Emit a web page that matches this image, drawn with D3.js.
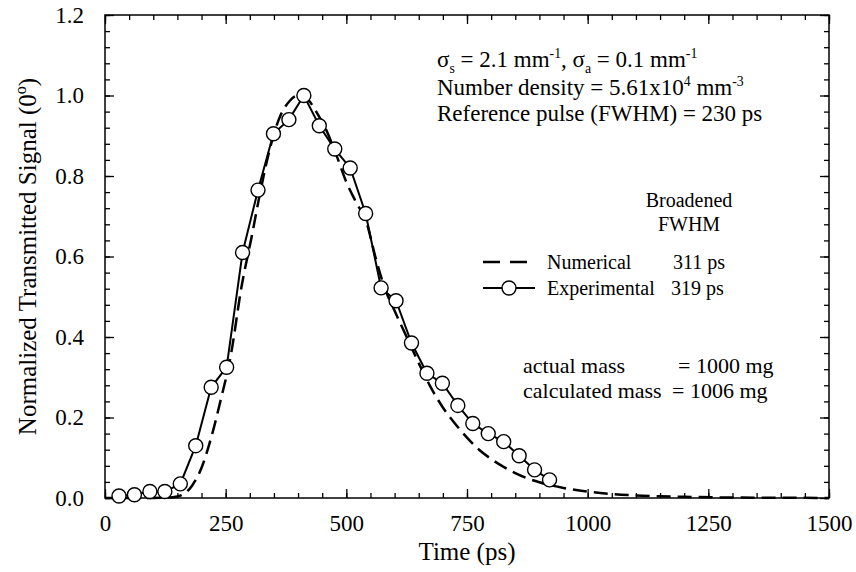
<!DOCTYPE html>
<html>
<head>
<meta charset="utf-8">
<script src="https://cdn.jsdelivr.net/npm/d3@7"></script>
<style>
  body { margin: 0; background: #fff; }
  text { font-family: "Liberation Serif", "DejaVu Serif", serif; fill: #000; }
</style>
</head>
<body>
<div id="container"></div>
<script>
/* CONSTANTS AND GLOBALS */
const width = 856;
const height = 572;
const margin = { top: 15, right: 27, bottom: 74, left: 105 };

/* DATA */
// experimental points (time in ps, normalized signal)
const expTime = [29, 61, 93, 124, 156, 188, 220, 252, 285, 317, 349, 381, 412, 444, 476,
  508, 540, 572, 603, 635, 667, 699, 731, 762, 794, 826, 858, 890, 921];
const expSignal = [0.005, 0.008, 0.016, 0.016, 0.035, 0.13, 0.275, 0.325, 0.61, 0.765, 0.905, 0.94, 1.0, 0.925, 0.867,
  0.82, 0.707, 0.522, 0.49, 0.385, 0.31, 0.285, 0.23, 0.185, 0.16, 0.14, 0.105, 0.07, 0.045];

// numerical curve
const numTime = [0, 100, 140, 160, 180, 200, 220, 240, 260, 283, 304, 320, 340, 360, 383, 400, 420, 440, 460,
  480, 500, 520, 542, 560, 580, 600, 625, 650, 675, 700, 725, 750, 775, 800, 825, 850, 875, 900,
  950, 1000, 1050, 1100, 1150, 1200, 1300, 1400, 1500];
const numSignal = [0, 0, 0.002, 0.008, 0.03, 0.075, 0.15, 0.245, 0.35, 0.526, 0.65, 0.75, 0.86, 0.94, 0.987, 1.0, 0.99, 0.955, 0.91,
  0.85, 0.785, 0.735, 0.684, 0.6, 0.52, 0.465, 0.4, 0.335, 0.275, 0.225, 0.185, 0.15, 0.12, 0.097, 0.078, 0.062, 0.049, 0.039,
  0.025, 0.016, 0.01, 0.0065, 0.0042, 0.0028, 0.0012, 0.0005, 0.0002];

const xTicks = [0, 250, 500, 750, 1000, 1250, 1500];
const yTicks = [0.0, 0.2, 0.4, 0.6, 0.8, 1.0, 1.2];

const expData = expTime.map((t, i) => ({ t, v: expSignal[i] }));
const numData = numTime.map((t, i) => ({ t, v: numSignal[i] }));

/* SCALES */
const xScale = d3.scaleLinear()
  .domain([0, 1500])
  .range([margin.left, width - margin.right]);

const yScale = d3.scaleLinear()
  .domain([0, 1.2])
  .range([height - margin.bottom, margin.top]);

const xMinor = d3.range(0, 1501, 50);
const yMinor = d3.range(0, 1.2001, 0.04);

/* SVG */
const svg = d3.select("#container")
  .append("svg")
  .attr("width", width)
  .attr("height", height);

const x0 = margin.left, x1 = width - margin.right;
const y0 = height - margin.bottom, y1 = margin.top;

// axes, ticks pointing inward
function tickAxis(axis, transform, values, size, labels, pad) {
  const g = svg.append("g")
    .attr("transform", transform)
    .call(axis.tickValues(values).tickSize(size).tickPadding(labels ? pad - size : 0)
      .tickFormat(labels ? labels : () => ""));
  g.select(".domain").remove();
  g.selectAll("line").attr("stroke", "#000").attr("stroke-width", 1.3);
  return g;
}

// bottom
tickAxis(d3.axisBottom(xScale), `translate(0,${y0})`, xMinor, -5, null);
const bx = tickAxis(d3.axisBottom(xScale), `translate(0,${y0})`, xTicks, -9, d3.format("d"), 8);
bx.selectAll("text").attr("font-size", 23).attr("font-family", "Liberation Serif");
// top
tickAxis(d3.axisTop(xScale), `translate(0,${y1})`, xMinor, -5, null);
tickAxis(d3.axisTop(xScale), `translate(0,${y1})`, xTicks, -9, null);
// left
tickAxis(d3.axisLeft(yScale), `translate(${x0},0)`, yMinor, -5, null);
const ly = tickAxis(d3.axisLeft(yScale), `translate(${x0},0)`, yTicks, -9, d3.format(".1f"), 12);
ly.selectAll("text").attr("font-size", 23).attr("font-family", "Liberation Serif");
// right
tickAxis(d3.axisRight(yScale), `translate(${x1},0)`, yMinor, -5, null);
tickAxis(d3.axisRight(yScale), `translate(${x1},0)`, yTicks, -9, null);

// frame
svg.append("rect")
  .attr("x", x0).attr("y", y1)
  .attr("width", x1 - x0).attr("height", y0 - y1)
  .attr("fill", "none").attr("stroke", "#000").attr("stroke-width", 1.5);

/* LINES */
const line = d3.line()
  .x(d => xScale(d.t))
  .y(d => yScale(d.v));

svg.append("path")
  .datum(numData)
  .attr("d", line.curve(d3.curveMonotoneX))
  .attr("fill", "none")
  .attr("stroke", "#000")
  .attr("stroke-width", 2.5)
  .attr("stroke-dasharray", "14,7");

svg.append("path")
  .datum(expData)
  .attr("d", line.curve(d3.curveLinear))
  .attr("fill", "none")
  .attr("stroke", "#000")
  .attr("stroke-width", 2);

svg.selectAll("circle.exp")
  .data(expData)
  .join("circle")
  .attr("class", "exp")
  .attr("cx", d => xScale(d.t))
  .attr("cy", d => yScale(d.v))
  .attr("r", 7)
  .attr("fill", "#fff")
  .attr("stroke", "#000")
  .attr("stroke-width", 1.4);

/* AXIS LABELS */
svg.append("text")
  .attr("text-anchor", "middle")
  .attr("x", (x0 + x1) / 2)
  .attr("y", 560)
  .attr("font-size", 25)
  .text("Time (ps)");

const yl = svg.append("text")
  .attr("text-anchor", "middle")
  .attr("transform", `translate(36,${(y0 + y1) / 2}) rotate(-90)`)
  .attr("font-size", 25);
yl.append("tspan").text("Normalized Transmitted Signal (0");
yl.append("tspan").attr("font-size", 16).attr("dy", -10).text("o");
yl.append("tspan").attr("dy", 10).text(")");

/* ANNOTATIONS */
function rich(x, y, size, parts) {
  const t = svg.append("text").attr("x", x).attr("y", y).attr("font-size", size);
  let shift = 0;
  parts.forEach(p => {
    const target = p.sup ? -size * 0.4 : p.sub ? size * 0.25 : 0;
    t.append("tspan")
      .attr("font-size", p.sup || p.sub ? size * 0.6 : size)
      .attr("dy", target - shift)
      .text(p.s);
    shift = target;
  });
  return t;
}

rich(437, 67, 23, [
  { s: "\u03c3" }, { s: "s", sub: true }, { s: " = 2.1 mm" }, { s: "-1", sup: true },
  { s: ", \u03c3" }, { s: "a", sub: true }, { s: " = 0.1 mm" }, { s: "-1", sup: true }
]);
rich(437, 95, 23, [
  { s: "Number density = 5.61x10" }, { s: "4", sup: true }, { s: " mm" }, { s: "-3", sup: true }
]);
rich(437, 121, 23, [{ s: "Reference pulse (FWHM) = 230 ps" }]);

svg.append("text").attr("x", 689).attr("y", 207).attr("font-size", 20)
  .attr("text-anchor", "middle").text("Broadened");
svg.append("text").attr("x", 689).attr("y", 231).attr("font-size", 20)
  .attr("text-anchor", "middle").text("FWHM");

// legend
const legend = [
  { label: "Numerical", value: "311 ps", y: 262, dashed: true },
  { label: "Experimental", value: "319 ps", y: 288, dashed: false }
];
legend.forEach(d => {
  svg.append("line")
    .attr("x1", 483).attr("x2", d.dashed ? 528 : 535)
    .attr("y1", d.y).attr("y2", d.y)
    .attr("stroke", "#000")
    .attr("stroke-width", d.dashed ? 2.5 : 2)
    .attr("stroke-dasharray", d.dashed ? "17,10" : null);
  if (!d.dashed) {
    svg.append("circle").attr("cx", 509).attr("cy", d.y).attr("r", 7)
      .attr("fill", "#fff").attr("stroke", "#000").attr("stroke-width", 1.4);
  }
  svg.append("text").attr("x", 547).attr("y", d.y + 7).attr("font-size", 20).text(d.label);
  svg.append("text").attr("x", d.dashed ? 673 : 671).attr("y", d.y + 7).attr("font-size", 20).text(d.value);
});

svg.append("text").attr("x", 523).attr("y", 373).attr("font-size", 22).text("actual mass");
svg.append("text").attr("x", 678).attr("y", 373).attr("font-size", 22).text("= 1000 mg");
svg.append("text").attr("x", 523).attr("y", 398).attr("font-size", 22).text("calculated mass");
svg.append("text").attr("x", 672).attr("y", 398).attr("font-size", 22).text("= 1006 mg");
</script>
</body>
</html>
